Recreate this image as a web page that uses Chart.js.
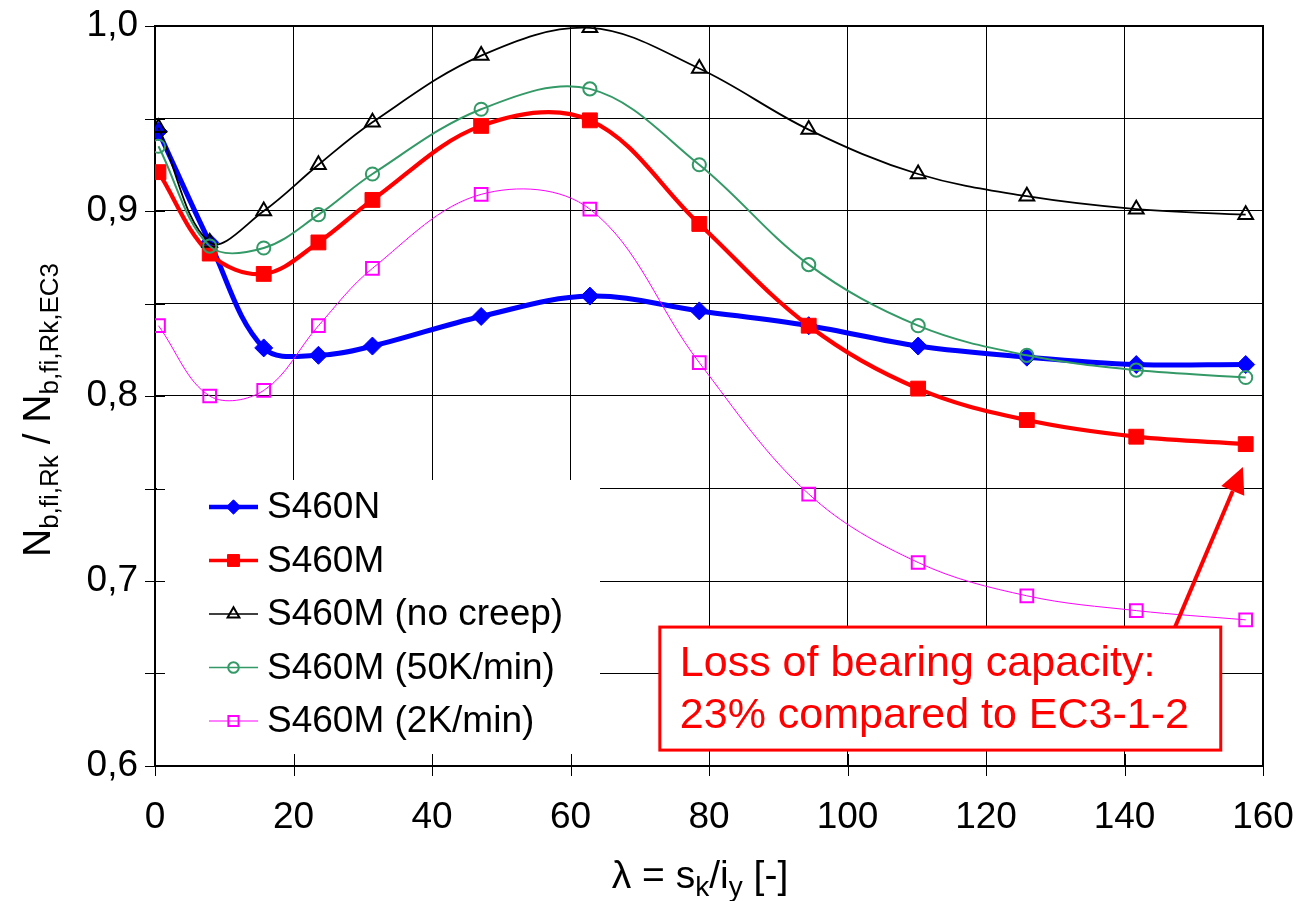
<!DOCTYPE html>
<html>
<head>
<meta charset="utf-8">
<script src="https://cdn.jsdelivr.net/npm/chart.js@4.4.1/dist/chart.umd.min.js"></script>
<style>
  html, body { margin: 0; padding: 0; background: #fff; }
  #wrap { width: 1314px; height: 901px; position: relative; }
</style>
</head>
<body>
<div id="wrap"><canvas id="chart"></canvas></div>
<script>
// slenderness values and capacity ratios
const lambdaValues = [0.5, 7.9, 15.7, 23.6, 31.4, 47.1, 62.8, 78.6, 94.4, 110.2, 125.9, 141.7, 157.5];
const s460N        = [0.943, 0.883, 0.826, 0.822, 0.827, 0.843, 0.854, 0.846, 0.838, 0.827, 0.821, 0.817, 0.817];
const s460M        = [0.921, 0.877, 0.866, 0.883, 0.906, 0.946, 0.949, 0.893, 0.838, 0.804, 0.787, 0.778, 0.774];
const s460MNoCreep = [0.945, 0.883, 0.900, 0.925, 0.948, 0.984, 0.999, 0.977, 0.944, 0.920, 0.908, 0.901, 0.898];
const s460M50K     = [0.935, 0.881, 0.880, 0.898, 0.920, 0.955, 0.966, 0.925, 0.871, 0.838, 0.822, 0.814, 0.810];
const s460M2K      = [0.838, 0.800, 0.803, 0.838, 0.869, 0.909, 0.901, 0.818, 0.747, 0.710, 0.692, 0.684, 0.679];

const seriesLabels = ['S460N', 'S460M', 'S460M (no creep)', 'S460M (50K/min)', 'S460M (2K/min)'];
const xTickValues = [0, 20, 40, 60, 80, 100, 120, 140, 160];
const yTickValues = [0.6, 0.7, 0.8, 0.9, 1.0];
const noteLines = ['Loss of bearing capacity:', '23% compared to EC3-1-2'];

const FONT = '"Liberation Sans", Arial, sans-serif';

const seriesData = [s460N, s460M, s460MNoCreep, s460M50K, s460M2K];
const seriesStyles = [
  { color: '#0000ff', width: 5, point: 'rectRot', radius: 9, filled: true, pbw: 1 },
  { color: '#ff0000', width: 4.2, point: 'rect', radius: 10.5, filled: true, pbw: 1 },
  { color: '#000000', width: 1.8, point: 'triangle', radius: 8.5, filled: false, pbw: 2 },
  { color: '#339966', width: 2, point: 'circle', radius: 6.6, filled: false, pbw: 2 },
  { color: '#ff00ff', width: 1, point: 'rect', radius: 9, filled: false, pbw: 2 }
];

// annotation placement in data units
const noteBox = { x0: 72.9, x1: 153.9, y0: 0.6751, y1: 0.6086 };
const arrowTail = { x: 147.3, y: 0.6751 };
const arrowTip = { x: 157.1, y: 0.7616 };

// legend panel (pixels)
const legendBox = { left: 157, top: 480, right: 600 };

const datasets = seriesData.map((ys, i) => {
  const s = seriesStyles[i];
  return {
    label: seriesLabels[i],
    data: ys.map((v, k) => ({ x: lambdaValues[k], y: v })),
    borderColor: s.color,
    borderWidth: s.width,
    pointStyle: s.point,
    pointRadius: s.radius,
    pointBorderWidth: s.pbw,
    pointBorderColor: s.color,
    pointBackgroundColor: s.filled ? s.color : 'rgba(0,0,0,0)',
    tension: 0.36,
    fill: false,
    order: seriesData.length - i
  };
});

function drawRich(ctx, parts, size, subSize, subShift) {
  let total = 0;
  parts.forEach(p => {
    ctx.font = (p.sub ? subSize : size) + 'px ' + FONT;
    p.w = ctx.measureText(p.t).width;
    total += p.w;
  });
  let x = -total / 2;
  parts.forEach(p => {
    ctx.font = (p.sub ? subSize : size) + 'px ' + FONT;
    ctx.fillText(p.t, x, p.sub ? subShift : 0);
    x += p.w;
  });
}

const decorations = {
  id: 'decorations',
  beforeDatasetsDraw(chart) {
    const { ctx, chartArea: a, scales: { x, y } } = chart;
    ctx.save();
    // white legend panel over the grid
    ctx.fillStyle = '#fff';
    ctx.fillRect(legendBox.left, legendBox.top, legendBox.right - legendBox.left, a.bottom - legendBox.top);
    // tick marks crossing the axes
    ctx.strokeStyle = '#000';
    ctx.lineWidth = 1;
    ctx.beginPath();
    y.ticks.forEach(t => {
      const py = Math.round(y.getPixelForValue(t.value)) + 0.5;
      ctx.moveTo(a.left - 10, py); ctx.lineTo(a.left + 10, py);
    });
    x.ticks.forEach(t => {
      const px = Math.round(x.getPixelForValue(t.value)) + 0.5;
      ctx.moveTo(px, a.bottom - 12); ctx.lineTo(px, a.bottom + 10);
    });
    ctx.stroke();
    ctx.lineWidth = 2;
    ctx.strokeRect(a.left, a.top, a.width, a.height);
    ctx.restore();
  },
  afterDatasetsDraw(chart) {
    const { ctx, scales: { x, y } } = chart;
    ctx.save();

    // legend
    ctx.textBaseline = 'middle';
    ctx.textAlign = 'left';
    seriesLabels.forEach((lab, i) => {
      const s = seriesStyles[i];
      const ly = legendBox.top + 27 + i * 53.5;
      ctx.strokeStyle = s.color;
      ctx.lineWidth = Math.max(s.width - 0.5, 1);
      ctx.beginPath();
      ctx.moveTo(209, ly); ctx.lineTo(258, ly);
      ctx.stroke();
      ctx.fillStyle = s.filled ? s.color : 'rgba(0,0,0,0)';
      ctx.lineWidth = s.pbw;
      Chart.helpers.drawPoint(ctx, { pointStyle: s.point, radius: s.radius * 0.8, rotation: 0, borderWidth: s.pbw }, 233.5, ly);
      ctx.fillStyle = '#000';
      ctx.font = '37px ' + FONT;
      ctx.fillText(lab, 267, ly + 1);
    });

    // annotation box
    const bx0 = x.getPixelForValue(noteBox.x0), bx1 = x.getPixelForValue(noteBox.x1);
    const by0 = y.getPixelForValue(noteBox.y0), by1 = y.getPixelForValue(noteBox.y1);
    ctx.fillStyle = '#fff';
    ctx.fillRect(bx0, by0, bx1 - bx0, by1 - by0);
    ctx.strokeStyle = '#ff0000';
    ctx.lineWidth = 3;
    ctx.strokeRect(bx0, by0, bx1 - bx0, by1 - by0);
    ctx.fillStyle = '#ff0000';
    ctx.font = '43px ' + FONT;
    ctx.textBaseline = 'alphabetic';
    noteLines.forEach((t, i) => ctx.fillText(t, bx0 + 20, by0 + 49 + i * 52));

    // arrow
    const tx = x.getPixelForValue(arrowTail.x), ty = y.getPixelForValue(arrowTail.y);
    const hx = x.getPixelForValue(arrowTip.x), hy = y.getPixelForValue(arrowTip.y);
    const ang = Math.atan2(hy - ty, hx - tx);
    const headLen = 26, headHalf = 12.5;
    const bxh = hx - headLen * Math.cos(ang), byh = hy - headLen * Math.sin(ang);
    ctx.strokeStyle = '#ff0000';
    ctx.lineWidth = 4;
    ctx.beginPath();
    ctx.moveTo(tx, ty); ctx.lineTo(bxh, byh);
    ctx.stroke();
    ctx.beginPath();
    ctx.moveTo(hx, hy);
    ctx.lineTo(bxh + headHalf * Math.sin(ang), byh - headHalf * Math.cos(ang));
    ctx.lineTo(bxh - headHalf * Math.sin(ang), byh + headHalf * Math.cos(ang));
    ctx.closePath();
    ctx.fill();

    // axis titles
    ctx.fillStyle = '#000';
    ctx.textAlign = 'left';
    ctx.save();
    ctx.translate(50, 410);
    ctx.rotate(-Math.PI / 2);
    drawRich(ctx, [
      { t: 'N' }, { t: 'b,fi,Rk', sub: true }, { t: ' / N' }, { t: 'b,fi,Rk,EC3', sub: true }
    ], 39, 26, 8);
    ctx.restore();
    ctx.save();
    ctx.translate(700, 888);
    drawRich(ctx, [
      { t: 'λ = s' }, { t: 'k', sub: true }, { t: '/i' }, { t: 'y', sub: true }, { t: ' [-]' }
    ], 39, 28, 8);
    ctx.restore();

    ctx.restore();
  }
};

new Chart(document.getElementById('chart'), {
  type: 'line',
  data: { datasets },
  options: {
    responsive: true,
    maintainAspectRatio: false,
    animation: false,
    layout: { padding: { top: 26, right: 51, left: 0, bottom: 0 } },
    plugins: { legend: { display: false }, tooltip: { enabled: false }, title: { display: false } },
    scales: {
      x: {
        type: 'linear',
        min: 0, max: 160,
        afterBuildTicks: s => { s.ticks = xTickValues.map(v => ({ value: v })); },
        afterFit: s => { s.height = 135; s.paddingLeft = 0; s.paddingRight = 0; },
        grid: { color: '#000', lineWidth: 1, drawTicks: false },
        border: { display: false },
        ticks: { color: '#000', font: { size: 37, family: FONT }, padding: 30, maxRotation: 0, callback: v => String(v) }
      },
      y: {
        type: 'linear',
        min: 0.6, max: 1.0,
        ticks: {
          stepSize: 0.05,
          color: '#000',
          font: { size: 37, family: FONT },
          padding: 17,
          callback: v => {
            const r = Math.round(v * 100) / 100;
            return yTickValues.some(t => Math.abs(t - r) < 1e-6) ? r.toFixed(1).replace('.', ',') : '';
          }
        },
        afterFit: s => { s.width = 155; s.paddingTop = 0; s.paddingBottom = 0; },
        grid: { color: '#000', lineWidth: 1, drawTicks: false },
        border: { display: false }
      }
    }
  },
  plugins: [decorations]
});
</script>
</body>
</html>
